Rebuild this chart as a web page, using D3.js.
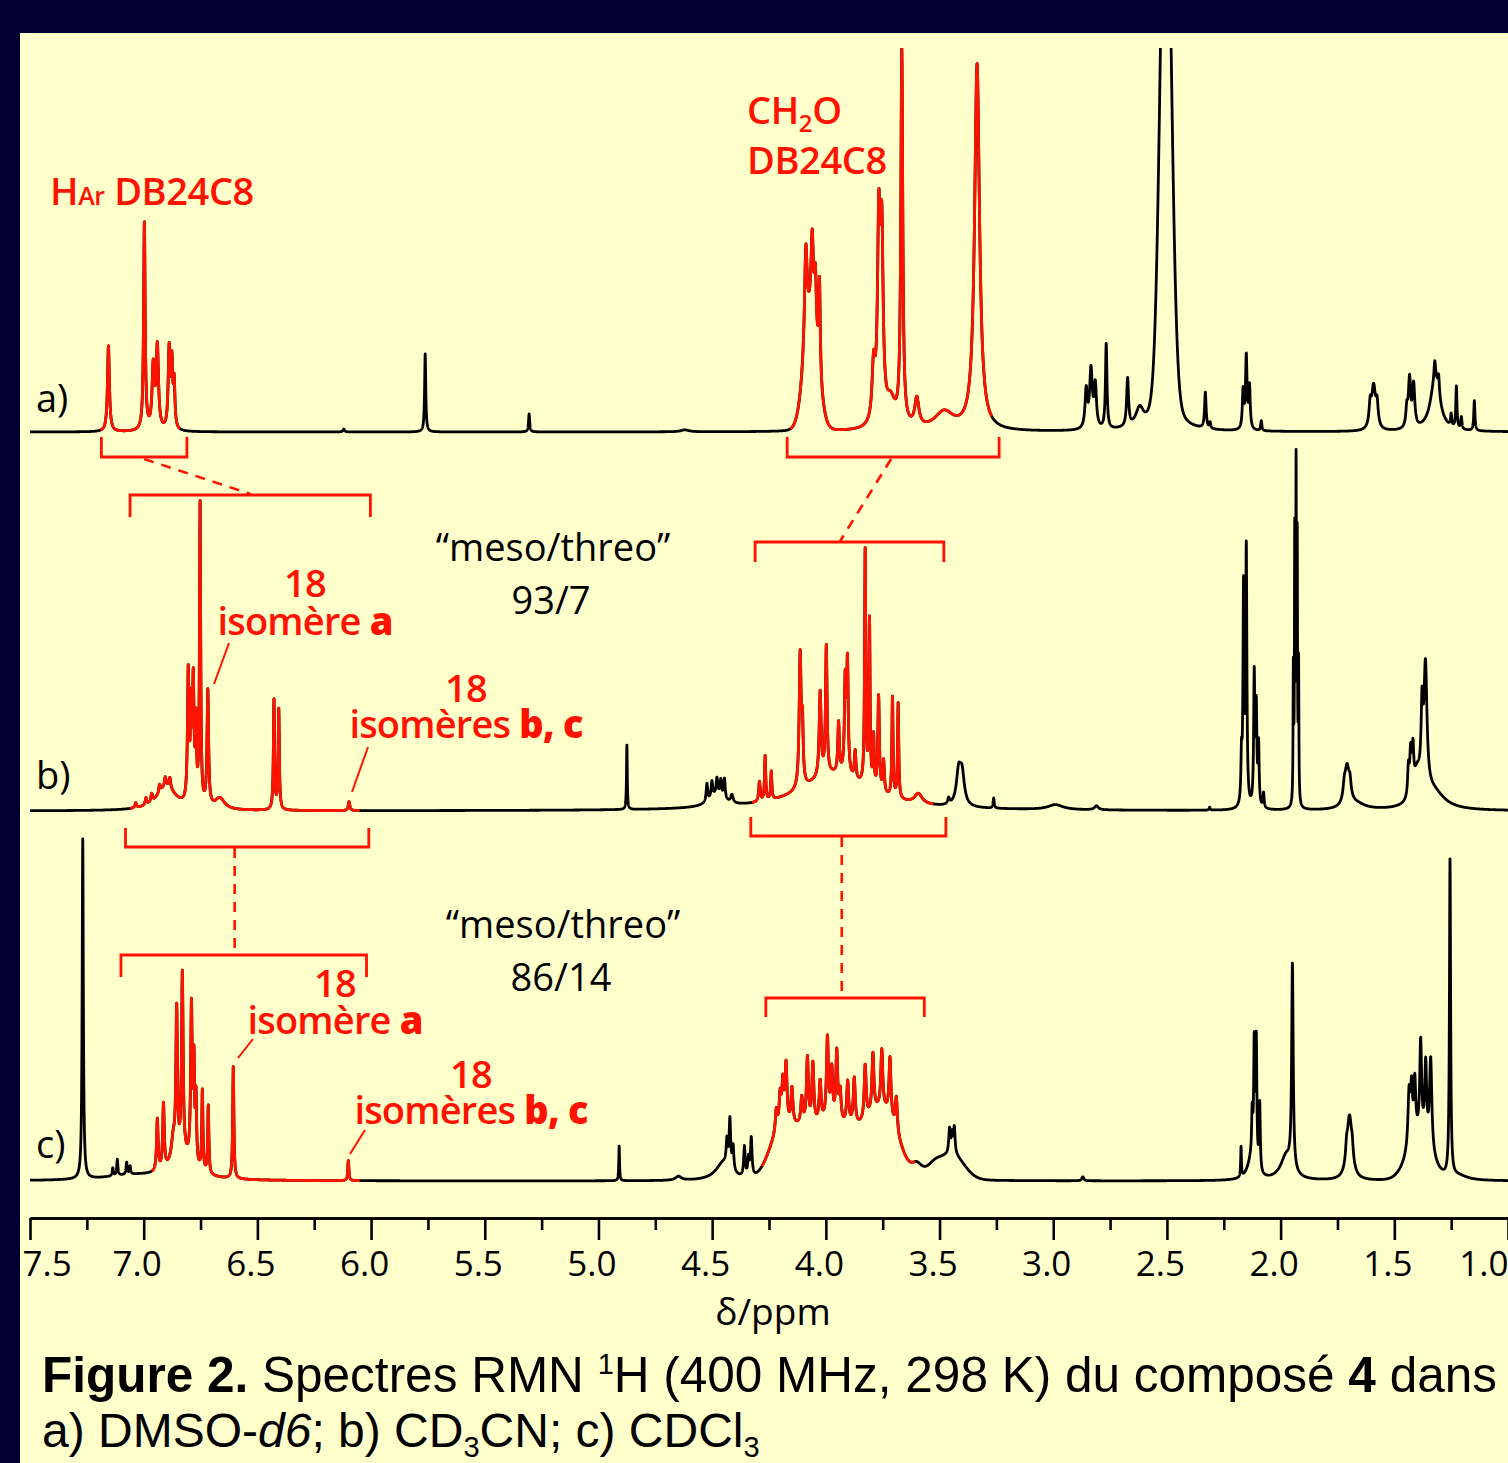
<!DOCTYPE html>
<html><head><meta charset="utf-8">
<script src="https://cdn.jsdelivr.net/npm/d3@7"></script>
<style>html,body{margin:0;padding:0;background:#000033;}svg{display:block}</style>
</head><body>
<svg id="chart" width="1508" height="1463"></svg>
<script>
// ---------------- DATA ----------------
// axis
const majorTicks = [7.5, 7.0, 6.5, 6.0, 5.5, 5.0, 4.5, 4.0, 3.5, 3.0, 2.5, 2.0, 1.5, 1.0];
const minorTicks = [7.25, 6.75, 6.25, 5.75, 5.25, 4.75, 4.25, 3.75, 3.25, 2.75, 2.25, 1.75, 1.25];
const tickLabels = ["7.5", "7.0", "6.5", "6.0", "5.5", "5.0", "4.5", "4.0", "3.5", "3.0", "2.5", "2.0", "1.5", "1.0"];
const axisTitle = "δ/ppm";

// peaks: [ppm, intensity, half-width (ppm), gaussian?]
const peaksA = [
  [7.155, 86, 0.005], [6.997, 208, 0.004], [6.958, 62, 0.006], [6.940, 82, 0.006],
  [6.888, 80, 0.005], [6.876, 62, 0.004], [6.866, 45, 0.004], [6.12, 3, 0.004],
  [5.762, 78, 0.003], [5.305, 18, 0.003], [4.62, 2, 0.02],
  [4.065, 110, 0.03, 1], [4.088, 100, 0.007], [4.060, 80, 0.006], [4.046, 58, 0.005], [4.028, 95, 0.004],
  [3.790, 55, 0.008], [3.767, 190, 0.007], [3.754, 175, 0.007], [3.715, 26, 0.025],
  [3.666, 374, 0.005], [3.600, 28, 0.011], [3.48, 18, 0.05], [3.335, 366, 0.013],
  [2.855, 38, 0.006], [2.834, 58, 0.007], [2.815, 42, 0.006], [2.767, 85, 0.004],
  [2.673, 48, 0.005], [2.62, 18, 0.02], [2.505, 500, 0.024, 1], [2.505, 120, 0.03],
  [2.331, 36, 0.004], [2.31, 6, 0.003], [2.165, 38, 0.004], [2.151, 72, 0.004], [2.137, 42, 0.004],
  [2.085, 10, 0.003], [1.591, 42, 0.01], [1.606, 22, 0.006], [1.576, 22, 0.006],
  [1.433, 48, 0.006], [1.415, 42, 0.006], [1.445, 18, 0.005],
  [1.32, 52, 0.025], [1.322, 18, 0.004], [1.305, 18, 0.004],
  [1.227, 42, 0.003], [1.25, 12, 0.003], [1.205, 12, 0.003], [1.148, 30, 0.003]
];
const peaksB = [
  [6.90, 24, 0.05], [7.035, 5, 0.004], [6.99, 7, 0.004], [6.965, 8, 0.004], [6.93, 8, 0.004],
  [6.905, 9, 0.004], [6.885, 10, 0.004],
  [6.804, 130, 0.004], [6.792, 85, 0.003], [6.782, 120, 0.004], [6.770, 75, 0.003],
  [6.752, 300, 0.003], [6.718, 115, 0.004], [6.665, 11, 0.025],
  [6.427, 110, 0.003], [6.406, 100, 0.003], [6.097, 9, 0.004],
  [4.875, 65, 0.002],
  [4.48, 12, 0.04], [4.523, 18, 0.004], [4.501, 16, 0.004], [4.479, 16, 0.004], [4.462, 16, 0.004],
  [4.446, 20, 0.004], [4.413, 8, 0.006],
  [3.96, 36, 0.18], [4.292, 20, 0.004], [4.267, 45, 0.003], [4.240, 28, 0.003],
  [4.113, 132, 0.005], [4.103, 55, 0.004], [4.025, 85, 0.005], [3.998, 128, 0.004],
  [3.944, 50, 0.004], [3.915, 90, 0.004], [3.905, 110, 0.004], [3.871, 28, 0.004],
  [3.827, 235, 0.003], [3.808, 165, 0.003], [3.790, 50, 0.003], [3.768, 95, 0.004],
  [3.746, 32, 0.004], [3.707, 100, 0.003], [3.682, 95, 0.003], [3.593, 10, 0.02],
  [3.416, 32, 0.012], [3.401, 30, 0.012], [3.46, 6, 0.005], [3.262, 10, 0.003],
  [2.99, 5, 0.04], [2.81, 4, 0.01], [2.312, 3, 0.003],
  [2.172, 45, 0.003], [2.163, 215, 0.003], [2.151, 255, 0.003], [2.116, 130, 0.003],
  [2.107, 95, 0.003], [2.097, 60, 0.003], [2.075, 15, 0.003],
  [1.944, 130, 0.0015], [1.938, 260, 0.0015], [1.932, 320, 0.0015], [1.927, 250, 0.0015], [1.921, 135, 0.0015],
  [1.708, 38, 0.012], [1.72, 12, 0.006], [1.695, 14, 0.006], [1.67, 6, 0.05],
  [1.363, 124, 0.008], [1.378, 72, 0.005], [1.428, 42, 0.005], [1.418, 38, 0.004],
  [1.438, 28, 0.004], [1.40, 28, 0.02], [1.33, 18, 0.06]
];
const peaksC = [
  [7.268, 340, 0.003], [7.05, 5, 0.15], [7.136, 8, 0.003], [7.116, 16, 0.003],
  [7.075, 12, 0.003], [7.06, 8, 0.003],
  [6.83, 22, 0.06], [6.940, 52, 0.004], [6.913, 65, 0.004], [6.87, 22, 0.01],
  [6.855, 145, 0.004], [6.830, 180, 0.004], [6.790, 155, 0.004], [6.779, 95, 0.003],
  [6.770, 65, 0.003], [6.742, 80, 0.003], [6.716, 68, 0.003],
  [6.606, 112, 0.003], [6.100, 20, 0.003],
  [4.909, 35, 0.002], [4.648, 4, 0.015],
  [4.45, 18, 0.04], [4.422, 48, 0.004], [4.435, 24, 0.004], [4.408, 24, 0.004],
  [4.358, 30, 0.004], [4.328, 38, 0.004], [4.34, 18, 0.004],
  [4.20, 46, 0.05, 1], [4.10, 42, 0.05, 1], [4.00, 46, 0.05, 1], [3.90, 42, 0.05, 1],
  [3.80, 46, 0.05, 1], [3.72, 50, 0.05, 1], [3.60, 12, 0.03], [3.52, 14, 0.05],
  [4.218, 22, 0.005], [4.201, 30, 0.005], [4.189, 40, 0.005], [4.175, 58, 0.005],
  [4.149, 36, 0.005], [4.106, 26, 0.005], [4.081, 66, 0.005], [4.057, 60, 0.005],
  [4.025, 40, 0.005], [3.993, 82, 0.005], [3.974, 50, 0.005], [3.952, 70, 0.005],
  [3.937, 30, 0.005], [3.904, 42, 0.005], [3.875, 46, 0.005], [3.827, 54, 0.005],
  [3.793, 58, 0.005], [3.754, 58, 0.005], [3.718, 58, 0.005], [3.690, 34, 0.005],
  [3.44, 22, 0.05, 1], [3.456, 24, 0.004], [3.445, 18, 0.004], [3.435, 26, 0.004],
  [2.87, 4, 0.005],
  [2.174, 30, 0.002], [2.13, 18, 0.02], [2.125, 45, 0.003], [2.116, 118, 0.003],
  [2.107, 125, 0.003], [2.092, 68, 0.003],
  [1.975, 24, 0.03], [1.948, 204, 0.004],
  [1.697, 62, 0.013], [1.71, 14, 0.005], [1.685, 12, 0.005], [1.385, 5, 0.003],
  [1.39, 42, 0.05, 1], [1.435, 55, 0.006], [1.424, 50, 0.005], [1.410, 55, 0.005],
  [1.384, 88, 0.005], [1.362, 75, 0.005], [1.340, 92, 0.006],
  [1.255, 318, 0.003], [1.22, 5, 0.05]
];
// ppm ranges drawn in red (DB24C8 signals)
const redA = [[7.19, 6.84], [4.157, 3.27]];
const redB = [[7.06, 6.05], [4.325, 3.527]];
const redC = [[6.965, 6.05], [4.281, 3.607]];
const spectrumLabels = ["a)", "b)", "c)"];
const ratioB = ["“meso/threo”", "93/7"];
const ratioC = ["“meso/threo”", "86/14"];

// ---------------- DRAWING ----------------
const RED = "#ff1200";
const svg = d3.select("#chart");
svg.append("rect").attr("width", 1508).attr("height", 1463).attr("fill", "#000033");
svg.append("rect").attr("x", 20).attr("y", 33).attr("width", 1488).attr("height", 1430).attr("fill", "#ffffcc");

const x = d3.scaleLinear().domain([7.5, 1.0]).range([30, 1508]);
const yA = d3.scaleLinear().domain([0, 400]).range([432, 32]);
const yB = d3.scaleLinear().domain([0, 400]).range([811, 411]);
const yC = d3.scaleLinear().domain([0, 400]).range([1181, 781]);

function spectrum(peaks) {
  const step = 0.0004, pts = [];
  for (let p = 7.5; p >= 0.9999; p -= step) {
    let v = 0;
    for (const [c, h, w, g] of peaks) {
      const d = (p - c) / w;
      v += g ? h * Math.exp(-0.5 * d * d) : h / (1 + d * d);
    }
    pts.push([p, v]);
  }
  return pts;
}

svg.append("defs").append("clipPath").attr("id", "clipA")
  .append("rect").attr("x", 20).attr("y", 48).attr("width", 1488).attr("height", 1400);

function drawSpectrum(peaks, y, reds, clip) {
  const pts = spectrum(peaks);
  const line = d3.line().x(d => x(d[0])).y(d => y(d[1]));
  const g = svg.append("g");
  if (clip) g.attr("clip-path", "url(#" + clip + ")");
  g.append("path").attr("d", line(pts)).attr("fill", "none").attr("stroke", "#000")
    .attr("stroke-width", 2.8).attr("stroke-linejoin", "round");
  for (const [hi, lo] of reds) {
    const seg = pts.filter(d => d[0] <= hi && d[0] >= lo);
    g.append("path").attr("d", line(seg)).attr("fill", "none").attr("stroke", RED)
      .attr("stroke-width", 2.8).attr("stroke-linejoin", "round");
  }
}
drawSpectrum(peaksA, yA, redA, "clipA");
drawSpectrum(peaksB, yB, redB, null);
drawSpectrum(peaksC, yC, redC, null);

// axis
const axisY = 1218;
const gMinor = svg.append("g").attr("transform", `translate(0,${axisY})`)
  .call(d3.axisBottom(x).tickValues(minorTicks).tickSize(12).tickSizeOuter(0).tickFormat(""));
const gMajor = svg.append("g").attr("transform", `translate(0,${axisY})`)
  .call(d3.axisBottom(x).tickValues(majorTicks).tickSize(22).tickSizeOuter(0)
    .tickFormat((d, i) => tickLabels[i]));
[gMinor, gMajor].forEach(g => {
  g.selectAll("path,line").attr("stroke", "#000").attr("stroke-width", 2.6);
});
gMajor.selectAll("text").attr("fill", "#000").attr("font-family", "'Open Sans', 'Noto Sans', sans-serif")
  .attr("font-size", 35).attr("dy", 0).attr("y", 58)
  .attr("text-anchor", (d, i) => i === 0 ? "start" : (i === majorTicks.length - 1 ? "end" : "middle"))
  .attr("dx", (d, i) => i === 0 ? -8 : (i === majorTicks.length - 1 ? 0 : -7));
svg.append("text").attr("x", 773).attr("y", 1325).attr("text-anchor", "middle")
  .attr("font-family", "'Open Sans', 'Noto Sans', sans-serif").attr("font-size", 37).text(axisTitle);

// spectrum labels
const lblFont = "'Open Sans', 'Noto Sans', sans-serif";
[[412, 0], [789, 1], [1158, 2]].forEach(([yy, i]) => {
  svg.append("text").attr("x", 36).attr("y", yy).attr("font-family", lblFont).attr("font-size", 38)
    .attr("fill", "#000").text(spectrumLabels[i]);
});

// ratio texts (one text element, two lines)
function ratio(lines, cx, y0) {
  const t = svg.append("text").attr("text-anchor", "middle").attr("font-family", lblFont)
    .attr("font-size", 38).attr("fill", "#000");
  lines.forEach((s, i) => t.append("tspan").attr("x", cx - (i ? 2 : 0)).attr("y", y0 + i * 53).text(s));
}
ratio(ratioB, 553, 561);
ratio(ratioC, 563, 938);

// red annotations
const redFont = "'Open Sans', 'Noto Sans', sans-serif";
function redText(xx, yy, anchor) {
  return svg.append("text").attr("x", xx).attr("y", yy).attr("text-anchor", anchor)
    .attr("font-family", redFont).attr("font-weight", 600).attr("font-size", 38)
    .attr("fill", RED).attr("letter-spacing", -0.4);
}
let t = redText(50, 205, "start");
t.append("tspan").text("H");
t.append("tspan").attr("font-size", 25).text("Ar");
t.append("tspan").text(" DB24C8");
t = redText(747, 124, "start");
t.append("tspan").text("CH");
t.append("tspan").attr("font-size", 24).attr("dy", 8).text("2");
t.append("tspan").attr("dy", -8).text("O");
t.append("tspan").attr("x", 747).attr("y", 174).text("DB24C8");

function isoLabel(cx, y18, y2, text2, boldPart) {
  const tt = redText(cx, y18, "middle").attr("letter-spacing", -0.8);
  tt.append("tspan").attr("x", cx).attr("y", y18).text("18");
  tt.append("tspan").attr("x", cx).attr("y", y2).text(text2);
  tt.append("tspan").attr("font-weight", 800).text(boldPart);
}
isoLabel(305, 597, 635, "isomère ", "a");
isoLabel(466, 702, 738, "isomères ", "b, c");
isoLabel(335, 997, 1034, "isomère ", "a");
isoLabel(471, 1088, 1124, "isomères ", "b, c");

// brackets (ppm ranges) and connectors
function bracket(p1, p2, yLine, yEnd) {
  const x1 = x(p1), x2 = x(p2);
  svg.append("path").attr("d", `M${x1},${yEnd}V${yLine}H${x2}V${yEnd}`)
    .attr("fill", "none").attr("stroke", RED).attr("stroke-width", 2.8);
}
bracket(7.186, 6.81, 457, 437);
bracket(4.170, 3.238, 457, 437);
bracket(7.06, 6.003, 495, 517);
bracket(4.311, 3.481, 542, 562);
bracket(7.08, 6.01, 847, 828);
bracket(4.330, 3.472, 836, 817);
bracket(7.10, 6.02, 955, 977);
bracket(4.264, 3.567, 998, 1017);

function dashed(x1, y1, x2, y2) {
  svg.append("line").attr("x1", x1).attr("y1", y1).attr("x2", x2).attr("y2", y2)
    .attr("stroke", RED).attr("stroke-width", 2.6).attr("stroke-dasharray", "10,8");
}
dashed(x(6.998), 459, x(6.53), 494);
dashed(x(3.713), 459, x(3.937), 541);
dashed(x(6.6), 848, x(6.6), 954);
dashed(x(3.93), 837, x(3.93), 997);

function leader(x1, y1, x2, y2) {
  svg.append("line").attr("x1", x1).attr("y1", y1).attr("x2", x2).attr("y2", y2)
    .attr("stroke", RED).attr("stroke-width", 2);
}
leader(229, 643, 214, 684);
leader(368, 747, 352, 792);
leader(253, 1039, 238, 1058);
leader(365, 1130, 350, 1154);

// caption
const capFont = "'Liberation Sans', Arial, sans-serif";
let cap = svg.append("text").attr("x", 42).attr("y", 1392).attr("font-family", capFont)
  .attr("font-size", 49.5).attr("fill", "#000");
cap.append("tspan").attr("font-weight", "bold").text("Figure 2.");
cap.append("tspan").text(" Spectres RMN ");
cap.append("tspan").attr("font-size", 29).attr("dy", -18).text("1");
cap.append("tspan").attr("dy", 18).text("H (400 MHz, 298 K) du composé ");
cap.append("tspan").attr("font-weight", "bold").text("4");
cap.append("tspan").text(" dans");
let cap2 = svg.append("text").attr("x", 42).attr("y", 1447).attr("font-family", capFont)
  .attr("font-size", 48).attr("fill", "#000");
cap2.append("tspan").text("a) DMSO-");
cap2.append("tspan").attr("font-style", "italic").text("d6");
cap2.append("tspan").text("; b) CD");
cap2.append("tspan").attr("font-size", 29).attr("dy", 10).text("3");
cap2.append("tspan").attr("dy", -10).text("CN; c) CDCl");
cap2.append("tspan").attr("font-size", 29).attr("dy", 10).text("3");
</script>
</body></html>
